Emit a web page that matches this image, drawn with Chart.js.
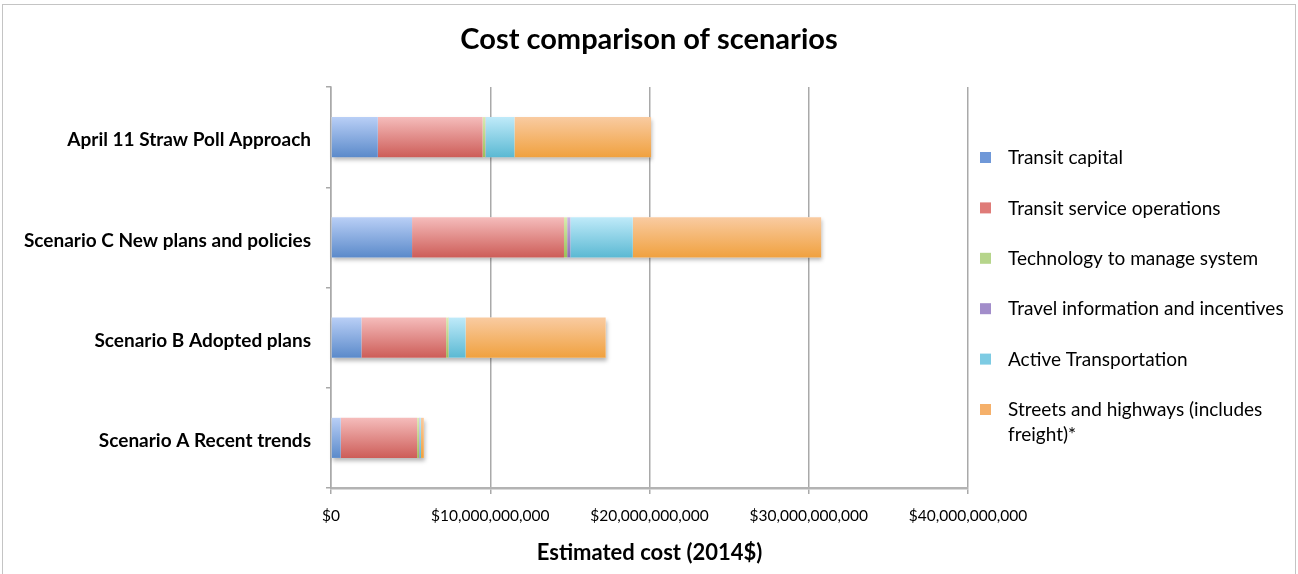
<!DOCTYPE html>
<html>
<head>
<meta charset="utf-8">
<title>Cost comparison of scenarios</title>
<script src="https://cdn.jsdelivr.net/npm/chart.js@4/dist/chart.umd.min.js"></script>
<style>
  html, body { margin: 0; padding: 0; background: #fff; }
</style>
</head>
<body>
<canvas id="costChart" width="1298" height="574"></canvas>
<script>
// Scenarios (top to bottom) and their cost components, in billions of 2014 dollars
const scenarios = [
    'April 11 Straw Poll Approach',
    'Scenario C New plans and policies',
    'Scenario B Adopted plans',
    'Scenario A Recent trends'
];
const transitCapital = [2.94, 5.09, 1.91, 0.61];
const transitOperations = [6.58, 9.54, 5.32, 4.80];
const technology = [0.17, 0.20, 0.15, 0.12];
const travelInfo = [0.03, 0.20, 0.03, 0.04];
const activeTransportation = [1.80, 3.92, 1.04, 0.08];
const streetsHighways = [8.58, 11.83, 8.80, 0.18];
const xTicks = [0, 10e9, 20e9, 30e9, 40e9];

const FONT = 'Lato';
const billions = arr => arr.map(v => v * 1e9);

// light top -> dark bottom for each series, plus a flat swatch for the legend
const palette = [
    { top: '#b9cff6', bottom: '#5b8aca', swatch: '#6f98d8' },
    { top: '#f5bcbb', bottom: '#cd5d58', swatch: '#df7b78' },
    { top: '#d9ebb2', bottom: '#9bbf58', swatch: '#b6d58b' },
    { top: '#c9b8e4', bottom: '#8a6db5', swatch: '#a28dca' },
    { top: '#bfeaf9', bottom: '#5bb9d3', swatch: '#7dcbe3' },
    { top: '#f9cba1', bottom: '#f0a13f', swatch: '#f5b06a' }
];

// vertical gradient sized to each individual bar
function barGradient(idx) {
    return ctx => {
        const chart = ctx.chart;
        const y = chart.scales.y;
        if (!chart.chartArea || !y || ctx.dataIndex === undefined) return palette[idx].swatch;
        const c = y.getPixelForValue(ctx.dataIndex);
        const half = y.height / scenarios.length * 0.4 / 2;
        const g = chart.ctx.createLinearGradient(0, c - half, 0, c + half);
        g.addColorStop(0, palette[idx].top);
        g.addColorStop(1, palette[idx].bottom);
        return g;
    };
}

const series = [
    { label: 'Transit capital', data: transitCapital },
    { label: 'Transit service operations', data: transitOperations },
    { label: 'Technology to manage system', data: technology },
    { label: 'Travel information and incentives', data: travelInfo },
    { label: 'Active Transportation', data: activeTransportation },
    { label: 'Streets and highways (includes freight)*', data: streetsHighways }
];

const datasets = series.map((s, i) => ({
    label: s.label,
    data: billions(s.data),
    backgroundColor: barGradient(i),
    borderWidth: 0,
    categoryPercentage: 0.4,
    barPercentage: 1
}));

// frame, title, soft shadow under the bars and the wrapped legend
const decor = {
    id: 'decor',
    beforeDatasetsDraw(chart) {
        const ctx = chart.ctx;
        const first = chart.getDatasetMeta(0).data;
        const last = chart.getDatasetMeta(datasets.length - 1).data;
        ctx.save();
        ctx.shadowColor = 'rgba(0,0,0,0.28)';
        ctx.shadowBlur = 4;
        ctx.shadowOffsetX = 1;
        ctx.shadowOffsetY = 3;
        ctx.fillStyle = '#ffffff';
        first.forEach((bar, i) => {
            const x0 = bar.base;
            const x1 = last[i].x;
            ctx.fillRect(x0, bar.y - bar.height / 2, x1 - x0, bar.height);
        });
        ctx.restore();
    },
    afterDraw(chart) {
        const ctx = chart.ctx;
        ctx.save();
        ctx.strokeStyle = '#c4c4c4';
        ctx.lineWidth = 1;
        ctx.strokeRect(2.5, 4.5, chart.width - 5, chart.height + 10);

        ctx.fillStyle = '#000';
        ctx.textAlign = 'center';
        ctx.textBaseline = 'middle';
        ctx.font = `bold 29px ${FONT}`;
        ctx.fillText('Cost comparison of scenarios', chart.width / 2, 40);

        // legend
        const left = chart.chartArea.right + 12;
        const textX = left + 28;
        const maxW = chart.width - textX - 6;
        let y = 158;
        ctx.font = `19px ${FONT}`;
        ctx.textAlign = 'left';
        datasets.forEach((ds, i) => {
            ctx.fillStyle = palette[i].swatch;
            ctx.fillRect(left, y - 6, 11, 11);
            ctx.fillStyle = '#000';
            const words = ds.label.split(' ');
            let line = '';
            let ly = y;
            words.forEach(w => {
                const test = line ? line + ' ' + w : w;
                if (ctx.measureText(test).width > maxW && line) {
                    ctx.fillText(line, textX, ly);
                    line = w;
                    ly += 25;
                } else {
                    line = test;
                }
            });
            ctx.fillText(line, textX, ly);
            y += 50.4;
        });
        ctx.restore();
    }
};

new Chart(document.getElementById('costChart'), {
    type: 'bar',
    data: {
        labels: scenarios,
        datasets: datasets
    },
    options: {
        indexAxis: 'y',
        responsive: false,
        animation: false,
        layout: {
            padding: { top: 87, right: 330, left: 0, bottom: 0 }
        },
        scales: {
            x: {
                stacked: true,
                min: 0,
                max: 40e9,
                afterFit: scale => { scale.height = 86; },
                afterBuildTicks: scale => { scale.ticks = xTicks.map(v => ({ value: v })); },
                ticks: {
                    padding: 13,
                    color: '#000',
                    font: { family: FONT, size: 15.5 },
                    callback: v => '$' + Number(v).toLocaleString('en-US')
                },
                grid: {
                    color: '#a9a9a9',
                    lineWidth: 1.5,
                    tickLength: 6
                },
                border: { color: '#b3b3b3', width: 2.5 },
                title: {
                    display: true,
                    text: 'Estimated cost (2014$)',
                    color: '#000',
                    font: { family: FONT, size: 22, weight: 'bold' },
                    padding: { top: 0, bottom: 8 }
                }
            },
            y: {
                stacked: true,
                afterFit: scale => { scale.width = 331; },
                ticks: {
                    padding: 15,
                    labelOffset: 3,
                    color: '#000',
                    font: { family: FONT, size: 19, weight: 'bold' }
                },
                grid: {
                    drawOnChartArea: false,
                    color: '#a9a9a9',
                    lineWidth: 1.5,
                    tickLength: 5
                },
                border: { color: '#a9a9a9', width: 1.5 }
            }
        },
        plugins: {
            legend: { display: false },
            tooltip: { enabled: false }
        }
    },
    plugins: [decor]
});
</script>
</body>
</html>
